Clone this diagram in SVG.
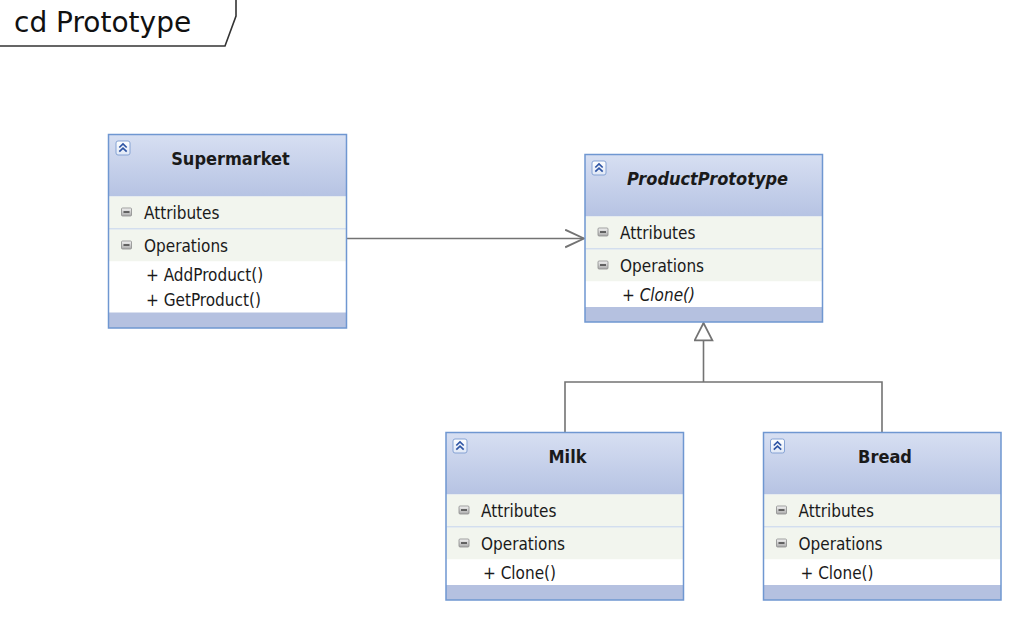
<svg xmlns="http://www.w3.org/2000/svg" width="1022" height="618" viewBox="0 0 1022 618">
<style>
  text { font-family: "DejaVu Sans Condensed", "DejaVu Sans", sans-serif; font-size: 17px; fill: #1a1a1a; }
  .title { font-weight: bold; font-size: 18px; text-anchor: middle; }
  .abs { font-style: italic; }
  .frame-title { font-family: "DejaVu Sans", sans-serif; font-size: 28px; fill: #111; }
  .border { fill: none; stroke: #6f97d1; stroke-width: 1.5; }
  .header { fill: url(#hdr); }
  .band { fill: #f2f5ee; }
  .items { fill: #ffffff; }
  .foot { fill: #b5c1e0; }
  .sep { stroke: #aec3e6; stroke-width: 1; }
  .conn { fill: none; stroke: #737373; stroke-width: 1.6; }
  .iconbox { fill: url(#ico); stroke: #86a3d4; stroke-width: 1; }
  .chev { fill: none; stroke: #2f55a4; stroke-width: 1.7; }
  .minus { fill: url(#mns); stroke: #8c8c8c; stroke-width: 0.8; }
  .minusbar { stroke: #333; stroke-width: 1.4; }
</style>
<defs>
  <linearGradient id="hdr" x1="0" y1="0" x2="0" y2="1">
    <stop offset="0" stop-color="#d7dff2"/>
    <stop offset="1" stop-color="#b6c3e3"/>
  </linearGradient>
  <linearGradient id="ico" x1="0" y1="0" x2="0" y2="1">
    <stop offset="0" stop-color="#ffffff"/>
    <stop offset="1" stop-color="#dfe7f6"/>
  </linearGradient>
  <linearGradient id="mns" x1="0" y1="0" x2="0" y2="1">
    <stop offset="0" stop-color="#f4f4f4"/>
    <stop offset="1" stop-color="#a9a9a9"/>
  </linearGradient>
  <marker id="openArrow" markerUnits="userSpaceOnUse" markerWidth="20" markerHeight="20" viewBox="0 0 17 16" refX="16.5" refY="8" orient="auto">
    <path d="M0.5,0.5 L16.5,8 L0.5,15.5" fill="none" stroke="#737373" stroke-width="1.6"/>
  </marker>
  <marker id="genTri" markerUnits="userSpaceOnUse" markerWidth="20" markerHeight="20" viewBox="0 0 17 18" refX="16.5" refY="9" orient="auto">
    <path d="M0.8,1 L16.5,9 L0.8,17 Z" fill="#ffffff" stroke="#737373" stroke-width="1.6"/>
  </marker>
  <g id="collapseIcon">
    <rect class="iconbox" x="0.5" y="0.5" width="14" height="14" rx="2"/>
    <path class="chev" d="M3.8,7 L7.5,3.5 L11.2,7 M3.8,11.2 L7.5,7.7 L11.2,11.2"/>
  </g>
  <g id="minusIcon">
    <rect class="minus" x="0.5" y="0.5" width="10" height="8" rx="1"/>
    <line class="minusbar" x1="2.5" y1="4.5" x2="8.5" y2="4.5"/>
  </g>
</defs>

<rect x="0" y="0" width="1022" height="618" fill="#ffffff"/>

<g id="frame">
  <path d="M0,46 H225 L236,16 V0" fill="none" stroke="#333333" stroke-width="1.6"/>
  <text class="frame-title" x="14" y="32">cd Prototype</text>
</g>

<g id="connectors">
  <line class="conn" x1="346" y1="238.5" x2="584" y2="238.5" marker-end="url(#openArrow)"/>
  <path class="conn" d="M565,432 V382 H882 V432"/>
  <line class="conn" x1="703.5" y1="382" x2="703.5" y2="323" marker-end="url(#genTri)"/>
</g>

<g id="Supermarket">
  <rect class="header" x="108.5" y="134.5" width="238" height="62"/>
  <rect class="band" x="108.5" y="196.5" width="238" height="32"/>
  <line class="sep" x1="109" y1="229" x2="346" y2="229"/>
  <rect class="band" x="108.5" y="229.5" width="238" height="32"/>
  <rect class="items" x="108.5" y="261.5" width="238" height="51"/>
  <rect class="foot" x="108.5" y="312.5" width="238" height="15.5"/>
  <rect class="border" x="108.5" y="134.5" width="238" height="193.5"/>
  <use href="#collapseIcon" x="115.5" y="140.5"/>
  <text class="title" x="230.5" y="165">Supermarket</text>
  <use href="#minusIcon" x="121" y="207.5"/>
  <text x="144" y="219">Attributes</text>
  <use href="#minusIcon" x="121" y="240.5"/>
  <text x="144" y="252">Operations</text>
  <text x="146" y="281">+ AddProduct()</text>
  <text x="146" y="306">+ GetProduct()</text>
</g>

<g id="ProductPrototype">
  <rect class="header" x="585" y="154.5" width="237.5" height="62"/>
  <rect class="band" x="585" y="216.5" width="237.5" height="32"/>
  <line class="sep" x1="585.5" y1="249" x2="822" y2="249"/>
  <rect class="band" x="585" y="249.5" width="237.5" height="32"/>
  <rect class="items" x="585" y="281.5" width="237.5" height="25.5"/>
  <rect class="foot" x="585" y="307" width="237.5" height="15"/>
  <rect class="border" x="585" y="154.5" width="237.5" height="167.5"/>
  <use href="#collapseIcon" x="591.5" y="160.5"/>
  <text class="title abs" x="707.5" y="185">ProductPrototype</text>
  <use href="#minusIcon" x="597.5" y="227.5"/>
  <text x="620" y="239">Attributes</text>
  <use href="#minusIcon" x="597.5" y="260.5"/>
  <text x="620" y="272">Operations</text>
  <text class="abs" x="622" y="301">+ Clone()</text>
</g>

<g id="Milk">
  <rect class="header" x="446" y="432.5" width="237.5" height="62"/>
  <rect class="band" x="446" y="494.5" width="237.5" height="32"/>
  <line class="sep" x1="446.5" y1="527" x2="683" y2="527"/>
  <rect class="band" x="446" y="527.5" width="237.5" height="32"/>
  <rect class="items" x="446" y="559.5" width="237.5" height="25.5"/>
  <rect class="foot" x="446" y="585" width="237.5" height="15"/>
  <rect class="border" x="446" y="432.5" width="237.5" height="167.5"/>
  <use href="#collapseIcon" x="452.5" y="438.5"/>
  <text class="title" x="567.5" y="463">Milk</text>
  <use href="#minusIcon" x="458.5" y="505.5"/>
  <text x="481" y="517">Attributes</text>
  <use href="#minusIcon" x="458.5" y="538.5"/>
  <text x="481" y="550">Operations</text>
  <text x="483" y="579">+ Clone()</text>
</g>

<g id="Bread">
  <rect class="header" x="763.5" y="432.5" width="237.5" height="62"/>
  <rect class="band" x="763.5" y="494.5" width="237.5" height="32"/>
  <line class="sep" x1="764" y1="527" x2="1000.5" y2="527"/>
  <rect class="band" x="763.5" y="527.5" width="237.5" height="32"/>
  <rect class="items" x="763.5" y="559.5" width="237.5" height="25.5"/>
  <rect class="foot" x="763.5" y="585" width="237.5" height="15"/>
  <rect class="border" x="763.5" y="432.5" width="237.5" height="167.5"/>
  <use href="#collapseIcon" x="770" y="438.5"/>
  <text class="title" x="885" y="463">Bread</text>
  <use href="#minusIcon" x="776" y="505.5"/>
  <text x="798.5" y="517">Attributes</text>
  <use href="#minusIcon" x="776" y="538.5"/>
  <text x="798.5" y="550">Operations</text>
  <text x="800.5" y="579">+ Clone()</text>
</g>
</svg>
